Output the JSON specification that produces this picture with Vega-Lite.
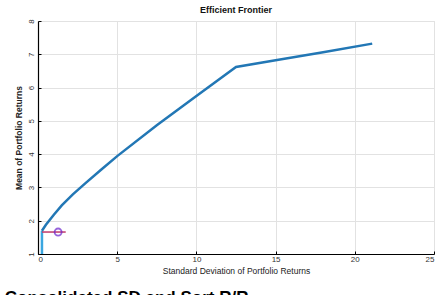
{
  "$schema": "https://vega.github.io/schema/vega-lite/v6.json",
  "autosize": {"type": "none"},
  "padding": {"left": 38, "top": 21, "right": 9, "bottom": 41},
  "width": 396,
  "height": 233,
  "background": "white",
  "title": {"text": "Efficient Frontier", "fontSize": 9, "fontWeight": "bold", "font": "Liberation Sans", "color": "#111", "offset": 4},
  "config": {
    "view": {"stroke": "#dddddd"},
    "axis": {"labelFont": "Liberation Sans", "titleFont": "Liberation Sans", "labelFontSize": 8, "titleFontSize": 8.5, "labelColor": "#333", "titleColor": "#222", "gridColor": "#e2e2e2", "domainColor": "#000", "tickColor": "#000", "tickSize": -3, "domainWidth": 1.2, "labelOverlap": false}
  },
  "datasets": {
    "frontier": [
      {"sd": 0.25, "mean": 1.7},
      {"sd": 0.5, "mean": 1.88},
      {"sd": 1.0, "mean": 2.18},
      {"sd": 1.5, "mean": 2.46},
      {"sd": 2.2, "mean": 2.79},
      {"sd": 3.0, "mean": 3.13},
      {"sd": 4.0, "mean": 3.54},
      {"sd": 5.0, "mean": 3.94},
      {"sd": 7.5, "mean": 4.87},
      {"sd": 10.0, "mean": 5.75},
      {"sd": 12.5, "mean": 6.62},
      {"sd": 15.0, "mean": 6.82},
      {"sd": 18.0, "mean": 7.06},
      {"sd": 21.1, "mean": 7.32}
    ],
    "vertical": [
      {"sd": 0.25, "mean": 1.0},
      {"sd": 0.25, "mean": 1.7}
    ],
    "point": [
      {"sd": 1.27, "mean": 1.66, "lo": 0.25, "hi": 1.75}
    ],
    "caption": [
      {"sd": -2.1, "mean": -0.33, "label": "Consolidated SD and Sort R/R"}
    ]
  },
  "encoding": {
    "x": {"field": "sd", "type": "quantitative", "scale": {"domain": [0, 25]}, "axis": {"values": [0, 5, 10, 15, 20, 25], "title": "Standard Deviation of Portfolio Returns", "titleFontWeight": "normal", "titlePadding": 3, "labelPadding": 4}},
    "y": {"field": "mean", "type": "quantitative", "scale": {"domain": [1, 8]}, "axis": {"values": [1, 2, 3, 4, 5, 6, 7, 8], "tickCount": 8, "title": "Mean of Portfolio Returns", "titleFontWeight": "bold", "labelAngle": -90, "labelAlign": "center", "labelBaseline": "bottom", "labelPadding": 6, "titlePadding": 4}}
  },
  "layer": [
    {
      "data": {"name": "vertical"},
      "mark": {"type": "line", "color": "#3aa6e0", "strokeWidth": 2.5}
    },
    {
      "data": {"name": "frontier"},
      "mark": {"type": "line", "color": "#2277b5", "strokeWidth": 2.5}
    },
    {
      "data": {"name": "point"},
      "mark": {"type": "rule", "color": "#c03a6a", "strokeWidth": 1.5},
      "encoding": {
        "x": {"field": "lo", "type": "quantitative"},
        "x2": {"field": "hi"}
      }
    },
    {
      "data": {"name": "point"},
      "mark": {"type": "point", "color": "#6a22cc", "strokeWidth": 1.8, "size": 50, "filled": false}
    },
    {
      "data": {"name": "caption"},
      "mark": {"type": "text", "align": "left", "baseline": "middle", "fontSize": 17, "fontWeight": "bold", "font": "Liberation Sans", "color": "#000", "clip": false},
      "encoding": {
        "text": {"field": "label"}
      }
    }
  ]
}
